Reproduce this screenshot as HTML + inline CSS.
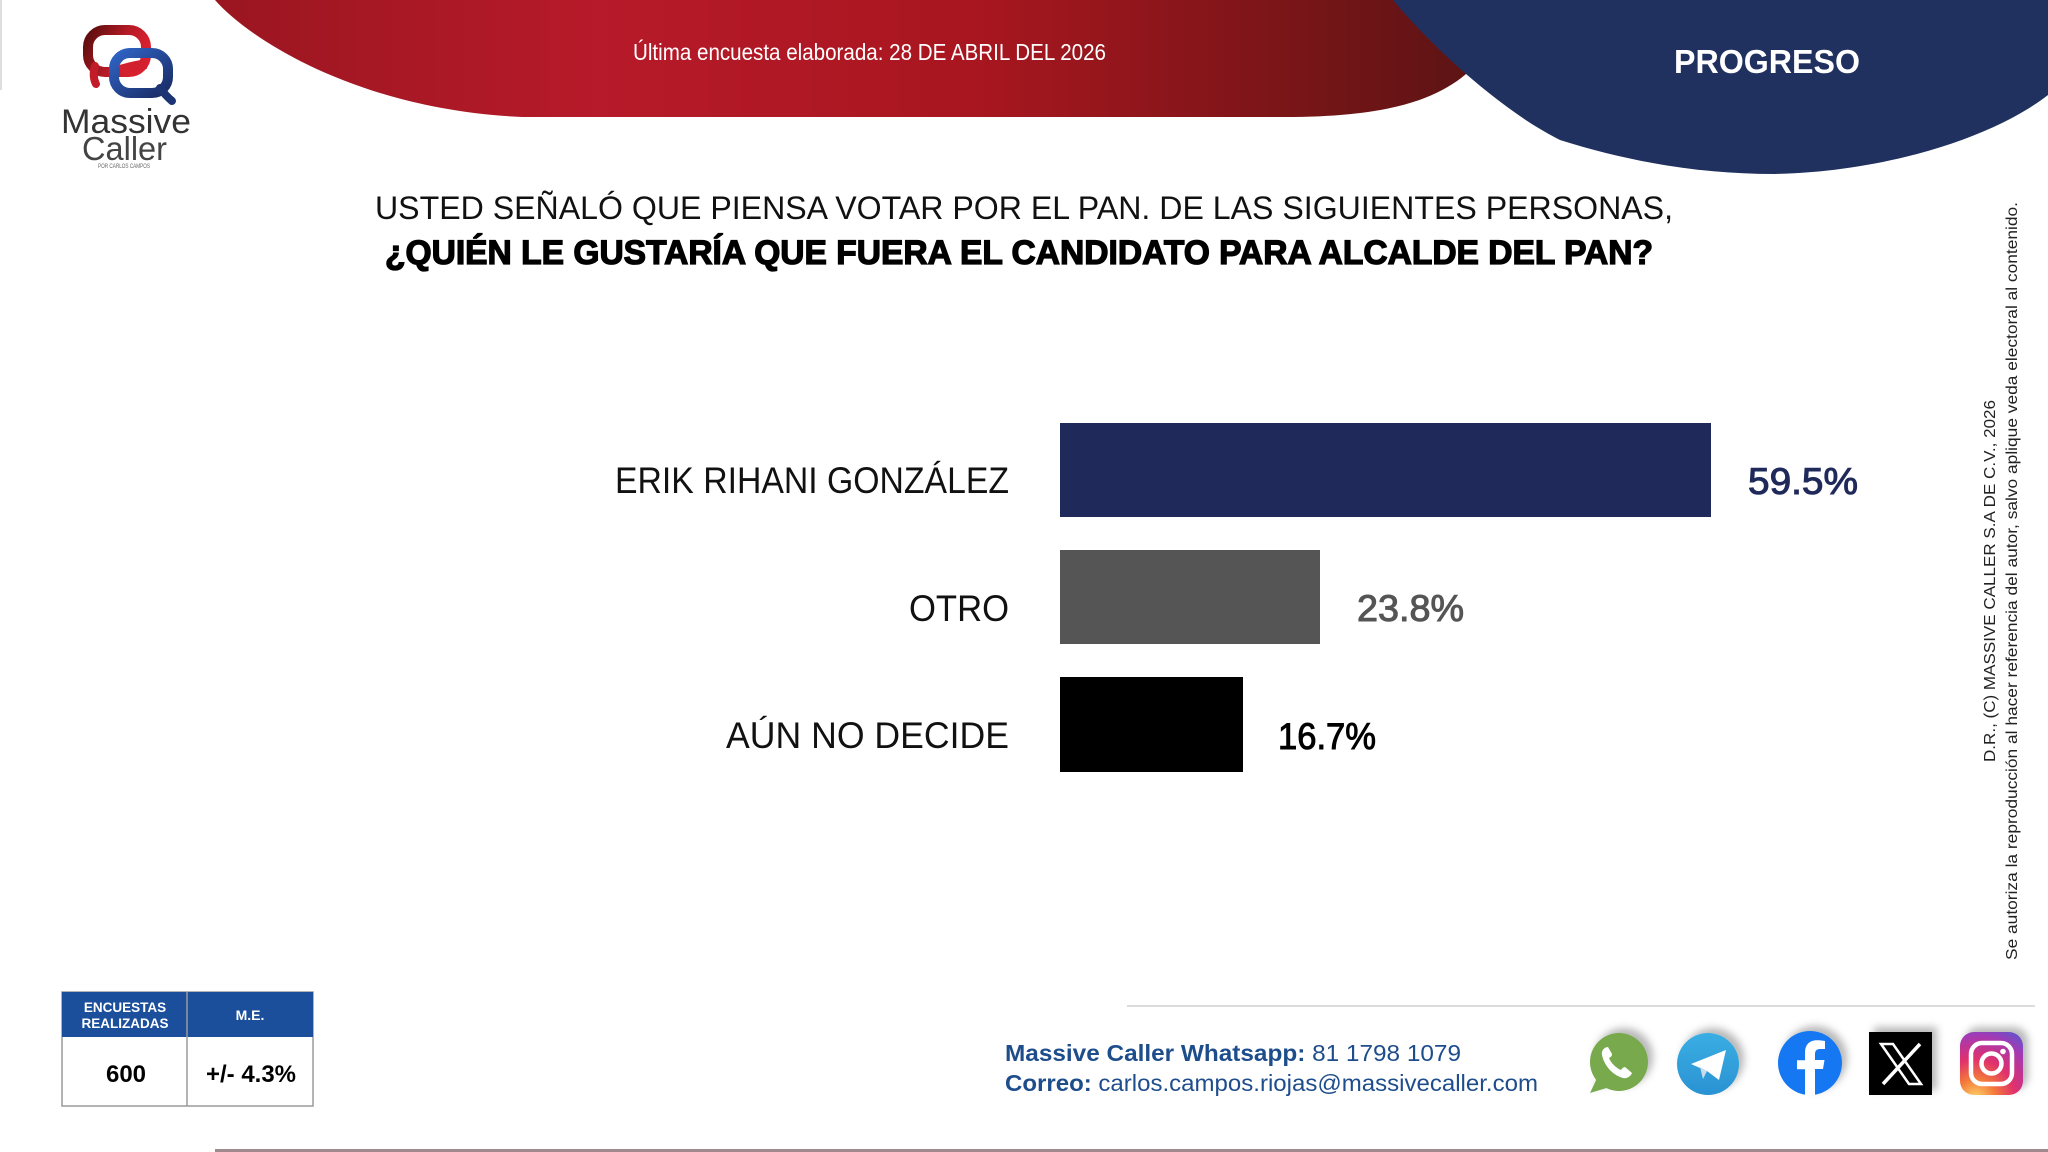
<!DOCTYPE html>
<html>
<head>
<meta charset="utf-8">
<style>
  html,body{margin:0;padding:0;background:#fff;}
  body{width:2048px;height:1152px;overflow:hidden;}
  svg{display:block;}
  text{font-family:"Liberation Sans",Arial,sans-serif;}
</style>
</head>
<body>
<svg width="2048" height="1152" viewBox="0 0 2048 1152" xmlns="http://www.w3.org/2000/svg">
  <defs>
    <linearGradient id="redg" gradientUnits="userSpaceOnUse" x1="215" y1="0" x2="1490" y2="0">
      <stop offset="0" stop-color="#9a1620"/>
      <stop offset="0.3" stop-color="#b71a2a"/>
      <stop offset="0.6" stop-color="#a8161f"/>
      <stop offset="0.85" stop-color="#781518"/>
      <stop offset="1" stop-color="#5a1414"/>
    </linearGradient>
    <linearGradient id="lr" x1="0" y1="0" x2="1" y2="0.4">
      <stop offset="0" stop-color="#5a0d0d"/>
      <stop offset="0.6" stop-color="#b51b26"/>
      <stop offset="1" stop-color="#d8202e"/>
    </linearGradient>
    <linearGradient id="lb" x1="0" y1="0" x2="1" y2="1">
      <stop offset="0" stop-color="#2f63c4"/>
      <stop offset="1" stop-color="#1a2c66"/>
    </linearGradient>
    <radialGradient id="ig" cx="0.25" cy="1.05" r="1.25">
      <stop offset="0" stop-color="#fdd46a"/>
      <stop offset="0.25" stop-color="#f3793a"/>
      <stop offset="0.5" stop-color="#e0306c"/>
      <stop offset="0.8" stop-color="#a23ab4"/>
      <stop offset="1" stop-color="#5a57cf"/>
    </radialGradient>
    <linearGradient id="tg" x1="0" y1="0" x2="0" y2="1">
      <stop offset="0" stop-color="#3aaee3"/>
      <stop offset="1" stop-color="#2a92d2"/>
    </linearGradient>
    <filter id="sh" x="-40%" y="-40%" width="180%" height="180%">
      <feDropShadow dx="5" dy="-5" stdDeviation="4" flood-color="#000" flood-opacity="0.28"/>
    </filter>
  </defs>

  <!-- left faint line -->
  <rect x="0" y="0" width="2" height="90" fill="#dedede"/>

  <!-- red band -->
  <path d="M215,0 C250,40 360,110 522,117 L1285,117 C1400,117 1450,95 1480,60 L1500,0 Z" fill="url(#redg)"/>
  <!-- blue band -->
  <path d="M1393,0 C1430,45 1500,110 1560,140 C1630,162 1700,174 1775,174 C1880,172 1990,140 2048,95 L2048,0 Z" fill="#20315f"/>

  <!-- header texts -->
  <text x="633" y="60" font-size="23" fill="#ffffff" textLength="473" lengthAdjust="spacingAndGlyphs">Última encuesta elaborada: 28 DE ABRIL DEL 2026</text>
  <text x="1674" y="73" font-size="33" font-weight="bold" fill="#ffffff" textLength="186" lengthAdjust="spacingAndGlyphs">PROGRESO</text>

  <!-- logo -->
  <g>
    <rect x="88" y="30" width="58" height="42" rx="17" fill="none" stroke="url(#lr)" stroke-width="10"/>
    <path d="M95,66 Q92,76 96,84" fill="none" stroke="#c11c28" stroke-width="8" stroke-linecap="round"/>
    <rect x="114" y="53" width="54" height="40" rx="16" fill="none" stroke="url(#lb)" stroke-width="10"/>
    <path d="M160,88 Q166,96 172,101" fill="none" stroke="#1d3474" stroke-width="8" stroke-linecap="round"/>
    <path d="M120,70 Q130,67 146,64" fill="none" stroke="#d3202e" stroke-width="10"/>
    <text x="61" y="133" font-size="34" fill="#333333" textLength="130" lengthAdjust="spacingAndGlyphs">Massive</text>
    <text x="82" y="160" font-size="33" fill="#444444" textLength="85" lengthAdjust="spacingAndGlyphs">Caller</text>
    <text x="98" y="168" font-size="6" fill="#666666" textLength="52" lengthAdjust="spacingAndGlyphs">POR CARLOS CAMPOS</text>
  </g>

  <!-- title -->
  <text x="375" y="219" font-size="32" fill="#111111" textLength="1298" lengthAdjust="spacingAndGlyphs">USTED SEÑALÓ QUE PIENSA VOTAR POR EL PAN. DE LAS SIGUIENTES PERSONAS,</text>
  <text x="385" y="264" font-size="34" font-weight="bold" fill="#000000" textLength="1268" lengthAdjust="spacingAndGlyphs" stroke="#000" stroke-width="1.3">¿QUIÉN LE GUSTARÍA QUE FUERA EL CANDIDATO PARA ALCALDE DEL PAN?</text>

  <!-- bars -->
  <rect x="1060" y="423" width="651" height="94" fill="#202a5a"/>
  <rect x="1060" y="550" width="260" height="94" fill="#555555"/>
  <rect x="1060" y="677" width="183" height="95" fill="#000000"/>

  <!-- labels -->
  <text x="615" y="493" font-size="37" fill="#111111" textLength="394" lengthAdjust="spacingAndGlyphs">ERIK RIHANI GONZÁLEZ</text>
  <text x="909" y="621" font-size="37" fill="#111111" textLength="100" lengthAdjust="spacingAndGlyphs">OTRO</text>
  <text x="726" y="748" font-size="37" fill="#111111" textLength="283" lengthAdjust="spacingAndGlyphs">AÚN NO DECIDE</text>

  <!-- values -->
  <text x="1748" y="494" font-size="37" fill="#202a5a" textLength="110" lengthAdjust="spacingAndGlyphs" stroke="#202a5a" stroke-width="1">59.5%</text>
  <text x="1357" y="621" font-size="37" fill="#555555" textLength="107" lengthAdjust="spacingAndGlyphs" stroke="#555555" stroke-width="1">23.8%</text>
  <text x="1278" y="749" font-size="37" fill="#000000" textLength="98" lengthAdjust="spacingAndGlyphs" stroke="#000" stroke-width="1">16.7%</text>

  <!-- vertical copyright -->
  <text transform="translate(1995,581) rotate(-90)" text-anchor="middle" font-size="16" fill="#222222" textLength="362" lengthAdjust="spacingAndGlyphs">D.R., (C) MASSIVE CALLER S.A DE C.V., 2026</text>
  <text transform="translate(2017,581) rotate(-90)" text-anchor="middle" font-size="16" fill="#222222" textLength="758" lengthAdjust="spacingAndGlyphs">Se autoriza la reproducción al hacer referencia del autor, salvo aplique veda electoral al contenido.</text>

  <!-- table -->
  <rect x="62" y="992" width="251" height="114" fill="#ffffff" stroke="#9a9a9a" stroke-width="1.5"/>
  <rect x="62" y="992" width="251" height="45" fill="#1b4f9c"/>
  <line x1="187" y1="992" x2="187" y2="1106" stroke="#9a9a9a" stroke-width="1.5"/>
  <text x="125" y="1012" font-size="13.5" font-weight="bold" fill="#ffffff" text-anchor="middle">ENCUESTAS</text>
  <text x="125" y="1028" font-size="13.5" font-weight="bold" fill="#ffffff" text-anchor="middle">REALIZADAS</text>
  <text x="250" y="1020" font-size="14" font-weight="bold" fill="#ffffff" text-anchor="middle">M.E.</text>
  <text x="126" y="1082" font-size="24" font-weight="bold" fill="#000000" text-anchor="middle">600</text>
  <text x="251" y="1082" font-size="24" font-weight="bold" fill="#000000" text-anchor="middle">+/- 4.3%</text>

  <!-- footer lines -->
  <rect x="1127" y="1005" width="908" height="2" fill="#dcdcdc"/>
  <rect x="215" y="1149" width="1833" height="3" fill="#a08a8e"/>

  <!-- contact -->
  <text x="1005" y="1061" font-size="23" fill="#1e4d8c" textLength="456" lengthAdjust="spacingAndGlyphs"><tspan font-weight="bold">Massive Caller Whatsapp:</tspan> 81 1798 1079</text>
  <text x="1005" y="1091" font-size="23" fill="#1e4d8c" textLength="533" lengthAdjust="spacingAndGlyphs"><tspan font-weight="bold">Correo:</tspan> carlos.campos.riojas@massivecaller.com</text>

  <!-- icons -->
  <g filter="url(#sh)">
    <circle cx="1619" cy="1062" r="29" fill="#78a94d"/>
    <path d="M1598,1076 L1590,1093 L1610,1087 Z" fill="#78a94d"/>
  </g>
  <path d="M1608,1047 c-3,0 -7,3 -6,8 c2,10 10,20 21,23 c4,1 8,-2 9,-5 l-7,-6 c-1,0 -3,1 -4,3 c-5,-2 -10,-7 -12,-12 c2,-1 3,-2 3,-4 z" fill="#ffffff"/>

  <g filter="url(#sh)">
    <circle cx="1708" cy="1064" r="31" fill="url(#tg)"/>
  </g>
  <path d="M1691,1064 L1726,1050 L1719,1080 L1707,1071 Z" fill="#ffffff"/>
  <path d="M1700,1067 L1703,1079 L1707,1071 Z" fill="#c9dcec"/>

  <g filter="url(#sh)">
    <circle cx="1810" cy="1063" r="32" fill="#1877f2"/>
  </g>
  <path d="M1815,1095 V1069 h8 l1.5,-9 h-9.5 v-6 c0,-3 1.5,-5 5,-5 h5 v-8 c-2,-0.5 -5,-0.8 -8,-0.8 c-8,0 -12,5 -12,12 v8 h-8 v9 h8 v26 z" fill="#ffffff"/>

  <g filter="url(#sh)">
    <rect x="1869" y="1032" width="63" height="63" fill="#000000"/>
  </g>
  <polygon points="1881,1044 1893,1044 1921,1084 1909,1084" fill="none" stroke="#ffffff" stroke-width="2.5"/>
  <line x1="1920" y1="1044" x2="1883" y2="1084" stroke="#ffffff" stroke-width="3.5"/>

  <g filter="url(#sh)">
    <rect x="1960" y="1032" width="63" height="63" rx="14" fill="url(#ig)"/>
  </g>
  <rect x="1971" y="1043" width="41" height="41" rx="11" fill="none" stroke="#ffffff" stroke-width="4.5"/>
  <circle cx="1991.5" cy="1063.5" r="10" fill="none" stroke="#ffffff" stroke-width="4.5"/>
  <circle cx="2003" cy="1051.5" r="2.8" fill="#ffffff"/>
</svg>
</body>
</html>
